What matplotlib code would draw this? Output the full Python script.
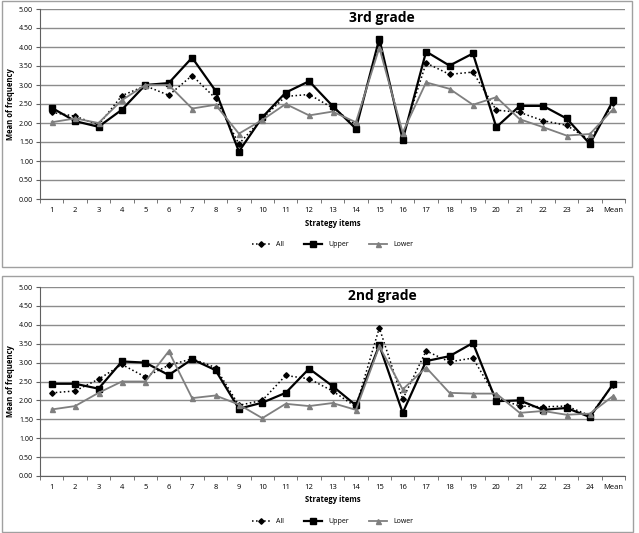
import matplotlib
matplotlib.use("Agg")
import matplotlib.pyplot as plt
from matplotlib.patches import Rectangle
import numpy as np

items = [str(i) for i in range(1, 25)] + ["Mean"]

# 3rd grade
g3_all = [2.28, 2.18, 1.95, 2.72, 2.98, 2.73, 3.25, 2.65, 1.45, 2.12, 2.70, 2.75, 2.40,
          1.95, 4.10, 1.65, 3.58, 3.28, 3.34, 2.34, 2.28, 2.06, 1.94, 1.55, 2.52]
g3_upper = [2.40, 2.05, 1.90, 2.35, 3.00, 3.05, 3.72, 2.85, 1.25, 2.15, 2.80, 3.10, 2.45,
            1.85, 4.22, 1.56, 3.88, 3.51, 3.83, 1.89, 2.45, 2.45, 2.12, 1.45, 2.60]
g3_lower = [2.02, 2.12, 2.00, 2.60, 3.00, 3.00, 2.38, 2.48, 1.72, 2.08, 2.50, 2.20, 2.30,
            2.02, 3.98, 1.75, 3.07, 2.90, 2.48, 2.68, 2.10, 1.89, 1.67, 1.71, 2.37]

# 2nd grade
g2_all = [2.20, 2.25, 2.56, 2.95, 2.62, 2.93, 3.10, 2.87, 1.87, 2.00, 2.66, 2.57, 2.25,
          1.83, 3.92, 2.03, 3.31, 3.02, 3.12, 2.07, 1.85, 1.83, 1.85, 1.60, 2.42]
g2_upper = [2.44, 2.44, 2.31, 3.03, 3.00, 2.67, 3.09, 2.80, 1.78, 1.94, 2.20, 2.84, 2.38,
            1.87, 3.46, 1.67, 3.04, 3.17, 3.52, 1.98, 2.00, 1.75, 1.80, 1.56, 2.44]
g2_lower = [1.76, 1.85, 2.20, 2.50, 2.50, 3.30, 2.06, 2.13, 1.89, 1.53, 1.91, 1.85, 1.93,
            1.75, 3.43, 2.29, 2.87, 2.20, 2.18, 2.18, 1.67, 1.72, 1.62, 1.65, 2.12]

W, H = 639, 533
fig = plt.figure(figsize=(W / 100, H / 100), dpi=100)
plt.rcParams['font.family'] = ['Open Sans', 'DejaVu Sans']


def px(x0, y0, x1, y1):
    # pixel box (top-left origin) -> figure fraction
    return [x0 / W, 1 - y1 / H, (x1 - x0) / W, (y1 - y0) / H]


def panel(box, axbox, title, a, u, l):
    fig.patches.append(Rectangle((box[0], box[1]), box[2], box[3], transform=fig.transFigure,
                                 fill=False, edgecolor="#a0a0a0", lw=1.0))
    ax = fig.add_axes(axbox)
    x = np.arange(len(items))
    ax.plot(x, a, color="black", ls=":", lw=1.1, marker="D", ms=2.8, label="All")
    ax.plot(x, u, color="black", ls="-", lw=1.6, marker="s", ms=4.2, label="Upper")
    ax.plot(x, l, color="#7f7f7f", ls="-", lw=1.3, marker="^", ms=3.6, label="Lower")
    ax.set_ylim(0, 5)
    ax.set_xlim(-0.5, len(items) - 0.5)
    ax.set_yticks(np.arange(0, 5.01, 0.5))
    ax.set_yticklabels(["%.2f" % v for v in np.arange(0, 5.01, 0.5)], fontsize=5)
    ax.set_xticks(x)
    ax.set_xticklabels(items, fontsize=5.5)
    ax.set_xticks(np.arange(-0.5, len(items), 1), minor=True)
    ax.tick_params(axis="x", which="major", length=0, pad=6)
    ax.tick_params(axis="x", which="minor", length=3, color="#606060")
    ax.tick_params(axis="y", length=3, color="#606060", pad=2)
    ax.yaxis.grid(True, color="#8c8c8c", lw=1.0)
    ax.set_axisbelow(True)
    for s in ["top", "right"]:
        ax.spines[s].set_visible(False)
    ax.spines["left"].set_color("#606060")
    ax.spines["bottom"].set_color("#606060")
    ax.set_ylabel("Mean of frequency", fontsize=5.5, fontweight="bold", labelpad=3)
    ax.set_xlabel("Strategy items", fontsize=5.5, fontweight="bold", labelpad=3)
    ax.text(0.585, 0.955, title, transform=ax.transAxes, ha="center", va="center",
            fontsize=10, fontweight="bold")
    ax.legend(loc="upper center", bbox_to_anchor=(0.5, -0.19), ncol=3, frameon=False,
              fontsize=5, handlelength=2.6, columnspacing=3)
    return ax


panel(px(2, 1, 632, 267), px(40, 9, 625, 199), "3rd grade", g3_all, g3_upper, g3_lower)
panel(px(2, 276, 633, 532), px(40, 287, 625, 476), "2nd grade", g2_all, g2_upper, g2_lower)

fig.savefig("out.png", dpi=100)
